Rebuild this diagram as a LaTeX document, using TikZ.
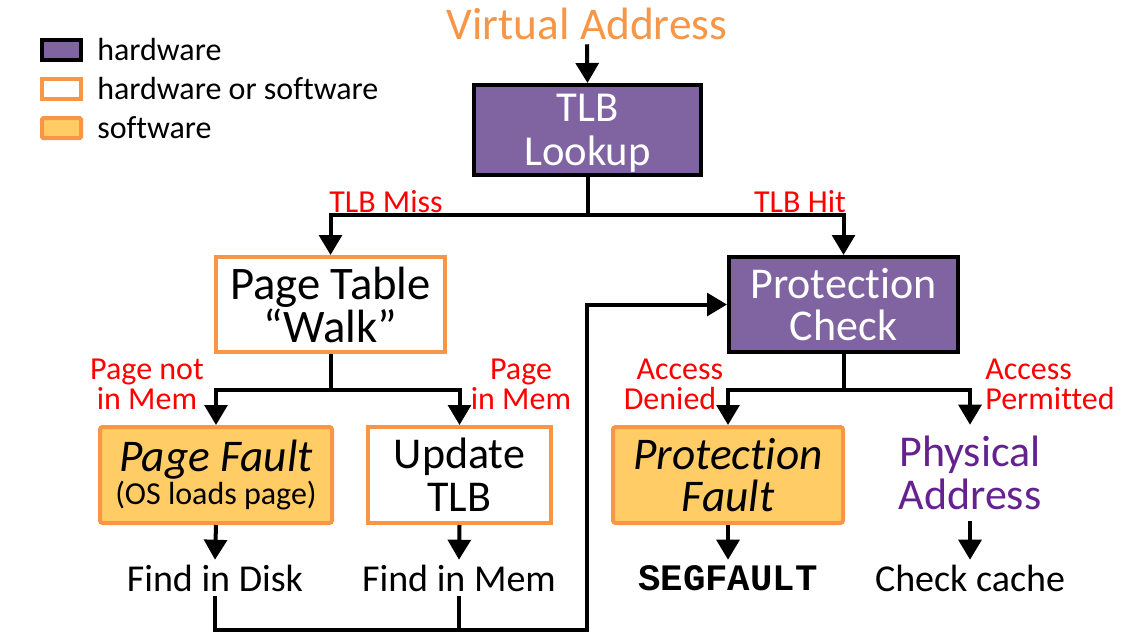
\documentclass[tikz,border=0pt]{standalone}
\usepackage{fontspec}
\setmainfont{Carlito}[Ligatures=NoCommon]
\newfontfamily\segfont{Liberation Mono}
\usetikzlibrary{arrows.meta}
\definecolor{hwpurple}{HTML}{8064A2}
\definecolor{swor}{HTML}{F79646}
\definecolor{swyel}{HTML}{FFCC66}
\definecolor{physpurple}{HTML}{65218F}
\definecolor{lblred}{HTML}{FF0000}
\newcommand{\fs}[2]{\fontsize{#1}{#2}\selectfont}
\tikzset{
  hwbox/.style={draw=black, fill=hwpurple, line width=3pt, text=white, align=center, inner sep=0pt},
  hsbox/.style={draw=swor, fill=white, line width=3pt, text=black, align=center, inner sep=0pt},
  swbox/.style={draw=swor, fill=swyel, line width=3pt, text=black, align=center, inner sep=0pt, rounded corners=2pt},
  lbl/.style={text=lblred, font=\fs{24}{22.5}, align=center, inner sep=0pt},
  conn/.style={line width=3pt, black},
  arr/.style={conn, -{Triangle[width=17pt,length=15pt]}},
  plain/.style={inner sep=0pt, align=center},
}
\begin{document}
\begin{tikzpicture}[x=0.75pt,y=-0.75pt]
\useasboundingbox (0,0) rectangle (1146,640);
% legend
\node[hwbox, minimum width=29.25pt, minimum height=15pt, line width=3.6pt] (lg1) at (61.5,50) {};
\node[hsbox, minimum width=29.25pt, minimum height=15pt] (lg2) at (61.5,89) {};
\node[swbox, minimum width=29.25pt, minimum height=15pt, rounded corners=1pt] (lg3) at (61.5,128) {};
\node[plain, anchor=west, font=\fs{24}{28}] (lt1) at (97,50) {hardware};
\node[plain, anchor=west, font=\fs{24}{28}] (lt2) at (97,89) {hardware or software};
\node[plain, anchor=west, font=\fs{24}{28}] (lt3) at (97,128) {software};
% top
\node[plain, text=swor, font=\fs{34}{40}, minimum height=30pt] (va) at (587,24) {Virtual Address};
\node[hwbox, minimum width=170.25pt, minimum height=67.5pt, font=\fs{32}{33}, text depth=0pt] (tlb) at (587.5,130) {TLB\\Lookup};
\node[hsbox, minimum width=171.75pt, minimum height=71.25pt, font=\fs{35}{28.5}] (ptw) at (330.5,304.5) {Page Table\\``Walk''};
\node[hwbox, minimum width=171.75pt, minimum height=71.25pt, font=\fs{33}{32}] (pc) at (843.5,304.5) {Protection\\Check};
\node[swbox, minimum width=174pt, minimum height=72pt] (pf) at (216,475) {{\fs{34}{36}\itshape Page Fault}\\{\fs{24}{26}(OS loads page)}};
\node[hsbox, minimum width=137.25pt, minimum height=72pt, font=\fs{33}{32}] (ut) at (459.5,475) {Update\\TLB};
\node[swbox, minimum width=172.5pt, minimum height=72pt, font=\fs{34}{32}\itshape] (prf) at (728,475) {Protection\\Fault};
\node[plain, text=physpurple, minimum height=72pt, font=\fs{33}{32}] (pa) at (970,473) {Physical\\Address};
% bottom texts
\node[plain, minimum height=27pt, font=\fs{28.5}{30}] (fd) at (215,578) {Find in Disk};
\node[plain, minimum height=27pt, font=\fs{28.5}{30}] (fm) at (459,578) {Find in Mem};
\node[plain, minimum height=27pt, font=\fs{28}{30}\segfont\bfseries] (sf) at (728,578) {SEGFAULT};
\node[plain, minimum height=27pt, font=\fs{28.5}{30}] (cc) at (970,578) {Check cache};
% labels
\node[lbl] (l1) at (386,202) {TLB Miss};
\node[lbl] (l2) at (800,202) {TLB Hit};
\node[lbl] (l3) at (147,384) {Page not\\in Mem};
\node[lbl] (l4) at (521,384) {Page\\in Mem};
\node[lbl] (l5) at (670,384) {\hphantom{D}Access\\Denied};
\node[lbl, align=left] (l6) at (1050,384) {Access\\Permitted};
% junctions
\coordinate (j1) at (587.5,215);
\coordinate (j2) at (330.5,390);
\coordinate (j3) at (843.5,390);
\coordinate (j4) at (587,630);
% connectors
\draw[arr] (va.south) -- (tlb.north);
\draw[conn] (tlb.south) -- (j1);
\draw[arr] (j1) -| (ptw.north);
\draw[arr] (j1) -| (pc.north);
\draw[conn] (ptw.south) -- (j2);
\draw[arr] (j2) -| (pf.north);
\draw[arr] (j2) -| (ut.north);
\draw[conn] (pc.south) -- (j3);
\draw[arr] (j3) -| (prf.north);
\draw[arr] (j3) -| (pa.north);
\draw[arr] (pf.south) -- (fd.north);
\draw[arr] (ut.south) -- (fm.north);
\draw[arr] (prf.south) -- (sf.north);
\draw[arr] (pa.south) -- (cc.north);
\draw[conn] (fm.south) -- (fm.south |- j4);
\draw[arr] (fd.south) |- (j4) |- (pc.west);
\end{tikzpicture}
\end{document}
